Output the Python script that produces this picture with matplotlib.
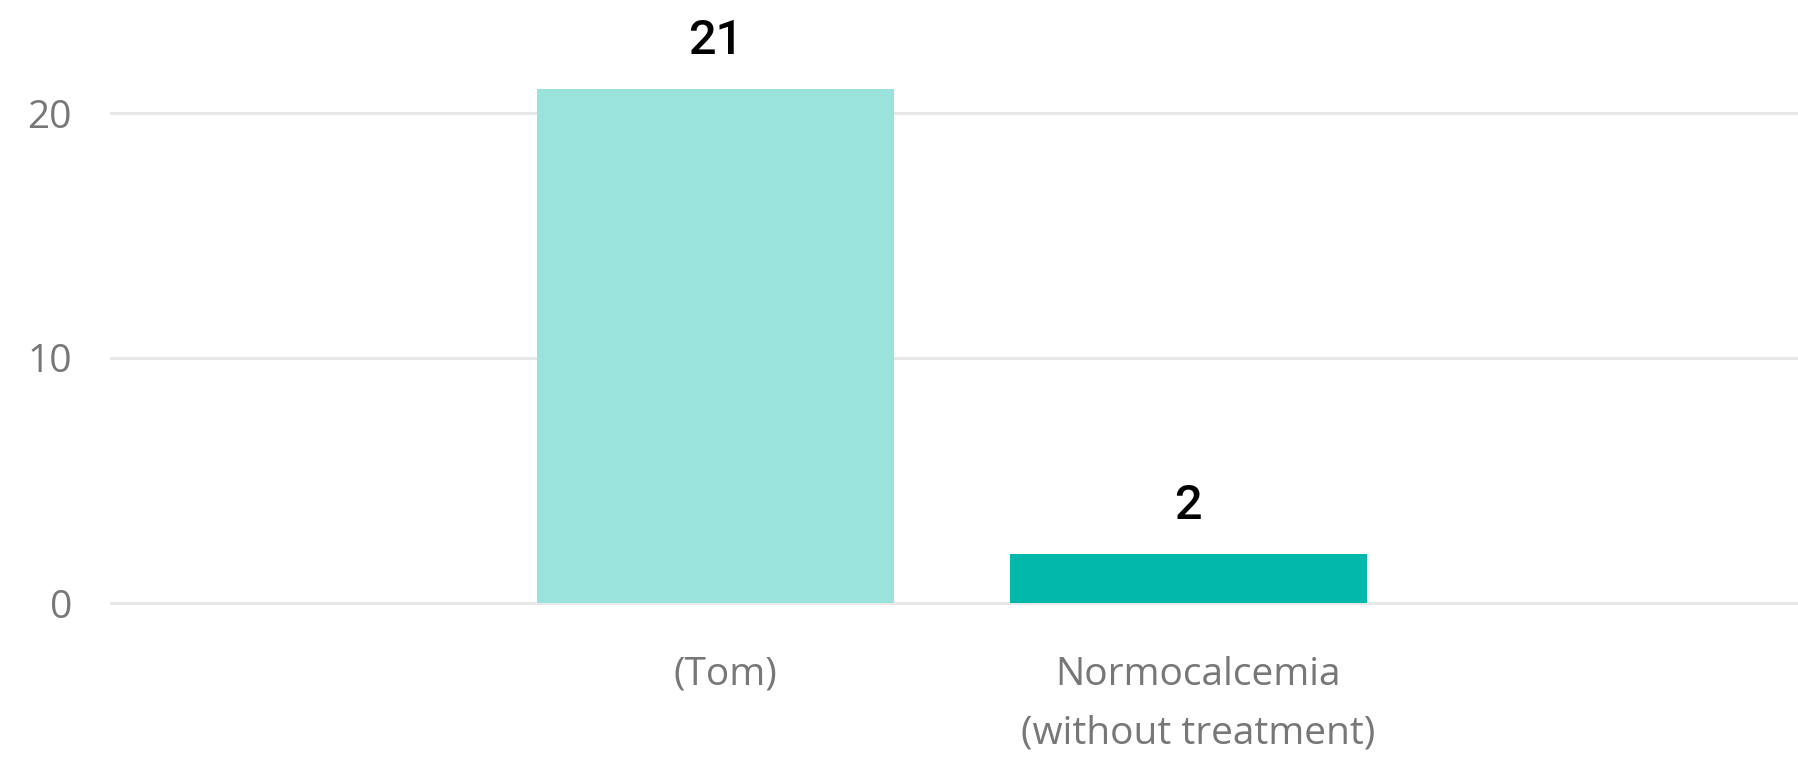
import matplotlib
matplotlib.use("Agg")
import matplotlib.pyplot as plt
import matplotlib.transforms as mtransforms

categories = ["(Tom)", "Normocalcemia\n(without treatment)"]
values = [21, 2]
colors = ["#9ae3dc", "#02b8ab"]
yticks = [0, 10, 20]

W, H, DPI = 1798, 760, 100
fig = plt.figure(figsize=(W / DPI, H / DPI), dpi=DPI)
fig.patch.set_facecolor("white")

ymax = 24
px_per_unit = 24.5
ax_left = 111 / W
ax_bottom = (H - 603) / H
ax_height = ymax * px_per_unit / H
ax = fig.add_axes([ax_left, ax_bottom, 1 - ax_left, ax_height])

x = list(range(len(categories)))
ax.bar(x, values, width=0.755, color=colors, zorder=2)

ax.set_xlim(-1.278, 2.289)
ax.set_ylim(0, ymax)
ax.set_yticks(yticks)
ax.set_yticklabels([str(t) for t in yticks])
ax.yaxis.grid(True, color="#e8e8e8", linewidth=2.2, zorder=0)
for gl in ax.yaxis.get_gridlines():
    gl.set_clip_on(False)
ax.set_axisbelow(True)

for s in ax.spines.values():
    s.set_visible(False)
ax.tick_params(axis="y", length=0, pad=28, labelsize=28, labelcolor="#777777")
ax.tick_params(axis="x", length=0, pad=38, labelsize=28, labelcolor="#777777")
for lbl in ax.get_yticklabels():
    lbl.set_fontfamily("Open Sans")

ax.set_xticks(x)
ax.set_xticklabels(categories, fontfamily="Open Sans", linespacing=1.72)
offset = mtransforms.ScaledTranslation(10 / DPI, 0, fig.dpi_scale_trans)
for lbl in ax.get_xticklabels():
    lbl.set_transform(lbl.get_transform() + offset)

# value labels above each bar
for xi, v in zip(x, values):
    ax.annotate(str(v), xy=(xi, v), xytext=(0, 25), textcoords="offset points",
                ha="center", va="baseline", fontsize=35, color="black",
                fontfamily="Roboto", fontweight="medium")

fig.savefig("out.png", dpi=DPI, facecolor="white")
